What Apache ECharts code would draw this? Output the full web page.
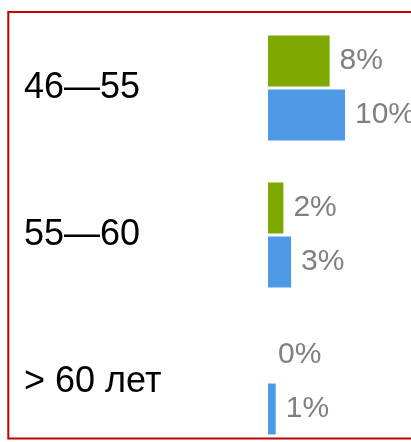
<!DOCTYPE html>
<html>
<head>
<meta charset="utf-8">
<script src="https://cdn.jsdelivr.net/npm/echarts@6/dist/echarts.min.js"></script>
<style>
  html, body { margin: 0; padding: 0; background: #fff; }
  #chart { width: 411px; height: 442px; }
</style>
</head>
<body>
<div id="chart"></div>
<script>
const categories = ["46—55", "55—60", "> 60 лет"]
const greenValues = [8, 2, 0]
const blueValues = [10, 3, 1]

const labelStyle = {
  show: true,
  position: "right",
  distance: 10,
  color: "#808080",
  fontSize: 30,
  fontFamily: "Liberation Sans, Arial, sans-serif",
  formatter: p => p.value + "%"
}

const chart = echarts.init(document.getElementById("chart"))
chart.setOption({
  animation: false,
  grid: {left: 268, top: 14.5, width: 77, height: 441, containLabel: false, outerBoundsMode: "none"},
  xAxis: {
    type: "value",
    min: 0,
    max: 10,
    show: false
  },
  yAxis: {
    type: "category",
    data: categories,
    inverse: true,
    axisLine: {show: false},
    axisTick: {show: false},
    splitLine: {show: false},
    axisLabel: {
      align: "left",
      margin: 244,
      color: "#000",
      fontSize: 36,
      fontFamily: "Liberation Sans, Arial, sans-serif"
    }
  },
  series: [
    {
      name: "green",
      type: "bar",
      data: greenValues,
      barWidth: 51,
      barGap: "6%",
      itemStyle: {color: "#7FA800"},
      label: labelStyle
    },
    {
      name: "blue",
      type: "bar",
      data: blueValues,
      barWidth: 51,
      itemStyle: {color: "#4F9AE6"},
      label: labelStyle
    }
  ],
  graphic: [
    {
      type: "rect",
      shape: {x: 8.3, y: 12, width: 430, height: 426.5},
      style: {fill: null, stroke: "#C00000", lineWidth: 2}
    }
  ]
})
</script>
</body>
</html>
